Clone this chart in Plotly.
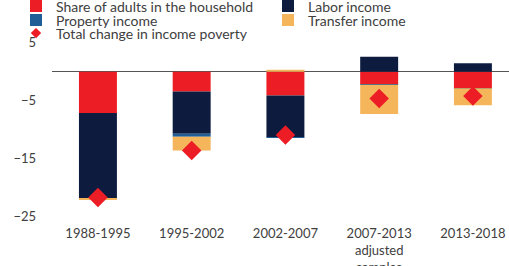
import plotly.graph_objects as go

categories = ["1988-1995", "1995-2002", "2002-2007", "2007-2013<br>adjusted<br>samples", "2013-2018"]
share_adults = [-7.1, -3.4, -4.1, -2.1, -2.8]
labor_income = [-14.7, -7.3, -7.2, 2.6, 1.5]
property_income = [-0.05, -0.5, -0.05, -0.12, -0.05]
transfer_income = [-0.2, -2.4, 0.35, -5.05, -2.9]
total_change = [-21.7, -13.6, -10.9, -4.6, -4.15]

RED = "#EC1D25"
NAVY = "#0D1B3F"
STEEL = "#1F5E97"
ORANGE = "#F5B65B"
FONT = "Lato, Open Sans, sans-serif"

# plot area geometry (pixels) used to place legend rows
W, H = 509, 266
L, R, T, B = 52, 0, 40, 44
PW, PH = W - L - R, H - T - B


def lx(px):
    return (px - L) / PW


def ly(py):
    return (H - B - py) / PH


fig = go.Figure()
fig.add_bar(x=categories, y=share_adults, name="Share of adults in the household",
            marker_color=RED, marker_line_width=0, legend="legend")
fig.add_bar(x=categories, y=labor_income, name="Labor income",
            marker_color=NAVY, marker_line_width=0, legend="legend2")
fig.add_bar(x=categories, y=property_income, name="Property income",
            marker_color=STEEL, marker_line_width=0, legend="legend3")
fig.add_bar(x=categories, y=transfer_income, name="Transfer income",
            marker_color=ORANGE, marker_line_width=0, legend="legend4")
fig.add_scatter(x=categories, y=total_change, name="Total change in income poverty", mode="markers",
                marker=dict(symbol="diamond", size=15, color=RED, line_width=0),
                showlegend=False, legendgroup="total")
# legend entry for the diamonds (smaller symbol, as in the reference key)
fig.add_scatter(x=[None], y=[None], name="Total change in income poverty", mode="markers",
                marker=dict(symbol="diamond", size=8, color=RED, line_width=0),
                legendgroup="total", legend="legend5")

leg_common = dict(orientation="h", xanchor="left", yanchor="middle",
                  font=dict(family=FONT, size=14, color="#404040"), bgcolor="rgba(0,0,0,0)",
                  borderwidth=0)

fig.update_layout(
    width=W, height=H,
    barmode="relative", bargap=0.595,
    margin=dict(l=L, r=R, t=T, b=B, autoexpand=False),
    plot_bgcolor="white", paper_bgcolor="white",
    font=dict(family=FONT, size=13, color="#404040"),
    legend=dict(leg_common, x=lx(16), y=ly(6.5)),
    legend2=dict(leg_common, x=lx(268), y=ly(6.5)),
    legend3=dict(leg_common, x=lx(16), y=ly(20.5)),
    legend4=dict(leg_common, x=lx(268), y=ly(20.5)),
    legend5=dict(leg_common, x=lx(16), y=ly(33.5)),
    showlegend=True,
)
fig.update_xaxes(range=[-0.49, 4.385], showgrid=False, showline=False, ticks="",
                 ticklabelstandoff=2, tickfont=dict(family=FONT, size=13, color="#404040"))
fig.update_yaxes(range=[-25.93, 5.5], tick0=5, dtick=10, showgrid=False, showline=False,
                 zeroline=True, zerolinecolor="#555555", zerolinewidth=1,
                 ticklabelstandoff=15, tickfont=dict(family=FONT, size=13, color="#404040"))

fig.write_html("out.html", config={"displayModeBar": False},
               post_script="document.body.style.margin='0';document.body.style.overflow='hidden';")
